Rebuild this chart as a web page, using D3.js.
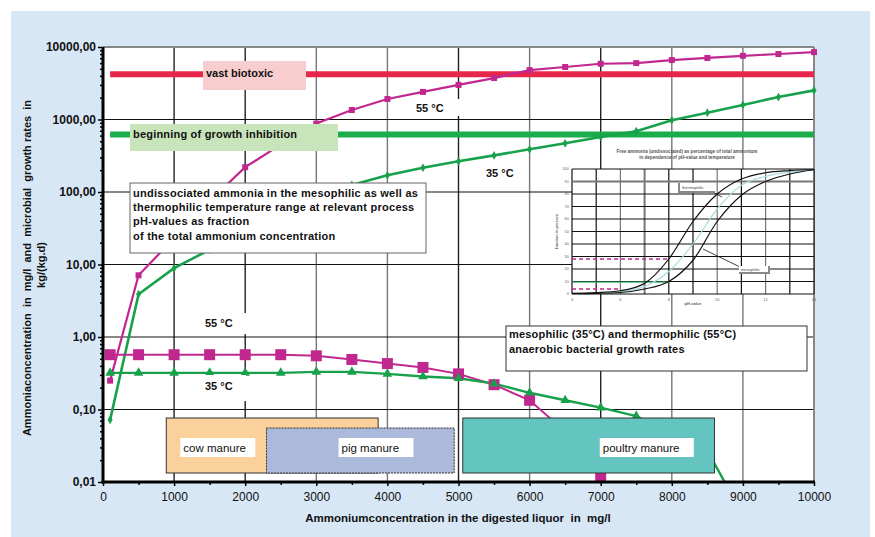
<!DOCTYPE html>
<html>
<head>
<meta charset="utf-8">
<script src="https://cdn.jsdelivr.net/npm/d3@7"></script>
<style>
  body { margin: 0; background: #fff; }
  text { font-family: "Liberation Sans", Arial, sans-serif; }
</style>
</head>
<body>
<svg id="chart" width="875" height="537"></svg>
<script>
// ---- data ----
// ammonia (NH3) concentration vs. ammonium concentration
var concX = [100, 500, 1000, 1500, 2000, 2500, 3000, 3500, 4000, 4500, 5000,
             5500, 6000, 6500, 7000, 7500, 8000, 8500, 9000, 9500, 10000];
var nh3At55 = [0.25, 7.1, 23, 75, 220, 450, 880, 1350, 1920, 2400, 3000,
               3730, 4800, 5300, 5870, 6000, 6600, 7060, 7560, 8000, 8500];
var nh3At35 = [0.072, 3.9, 8.9, 16, 30, 55, 85, 125, 170, 216, 265,
               320, 388, 470, 575, 690, 980, 1240, 1590, 2040, 2520];

// bacterial growth rates
var rateX55 = [100, 500, 1000, 1500, 2000, 2500, 3000, 3500, 4000, 4500, 5000, 5500, 6000, 6500, 7000];
var rate55 = [0.57, 0.57, 0.57, 0.57, 0.57, 0.57, 0.55, 0.49, 0.43, 0.38, 0.31, 0.22, 0.134, 0.05, 0.012];
var rateX35 = [100, 500, 1000, 1500, 2000, 2500, 3000, 3500, 4000, 4500, 5000,
               5500, 6000, 6500, 7000, 7500, 8000, 8500, 9000];
var rate35 = [0.32, 0.32, 0.32, 0.32, 0.32, 0.32, 0.33, 0.33, 0.31, 0.285, 0.27,
              0.227, 0.17, 0.134, 0.106, 0.081, 0.047, 0.027, 0.0035];

// threshold levels
var biotoxic = 4200;
var inhibition = 620;

// manure ranges (mg/l)
var manureNames = ["cow manure", "pig manure", "poultry manure"];
var manureFrom = [890, 2300, 5060];
var manureTo = [3870, 4940, 8600];

var yTicks = [0.01, 0.1, 1, 10, 100, 1000, 10000];
var xTicks = [0, 1000, 2000, 3000, 4000, 5000, 6000, 7000, 8000, 9000, 10000];

// inset: free ammonia in % vs pH
var insetPH = [4, 5, 6, 7, 8, 9, 10, 11, 12, 13, 14];
var thermo = [0.5, 1.1, 2.6, 8.5, 28, 58, 80, 92, 97, 98.7, 99.6];
var middle = [0.3, 0.7, 1.8, 6, 18, 40, 68, 87, 94, 97.5, 99.5];
var meso = [0.2, 0.5, 1.2, 4, 10, 27, 58, 79, 90, 96, 99.4];
var insetPHLabels = [4, 6, 8, 10, 12, 14];

// ---- layout ----
var margin = { top: 47, right: 61, bottom: 55, left: 103 },
    width = 875 - margin.left - margin.right,
    height = 537 - margin.top - margin.bottom;

var magenta = "#c0288f", green = "#17a14b";

var svg = d3.select("#chart");

svg.append("rect").attr("x", 11).attr("y", 11).attr("width", 859).attr("height", 530)
    .attr("fill", "#d8e7f5");

var g = svg.append("g")
    .attr("transform", "translate(" + margin.left + "," + margin.top + ")");

var x = d3.scaleLinear().domain([0, 10000]).range([0, width]);
var y = d3.scaleLog().domain([0.01, 10000]).range([height, 0]);

g.append("rect").attr("width", width).attr("height", height).attr("fill", "#fff");

// grid
g.selectAll(".vgrid").data(xTicks.slice(1, -1)).enter().append("line")
    .attr("x1", d => x(d)).attr("x2", d => x(d))
    .attr("y1", 0).attr("y2", height)
    .attr("stroke", d => (d === 5000 || d === 7000 || d === 1000 || d === 2000) ? "#222" : "#777")
    .attr("stroke-width", 1.4);

g.selectAll(".hgrid").data(yTicks.slice(1, -1)).enter().append("line")
    .attr("x1", 0).attr("x2", width)
    .attr("y1", d => y(d)).attr("y2", d => y(d))
    .attr("stroke", "#111").attr("stroke-width", 1.2);

// top / right frame
g.append("line").attr("x1", 0).attr("x2", width).attr("y1", 0).attr("y2", 0)
    .attr("stroke", "#888").attr("stroke-width", 2);
g.append("line").attr("x1", width).attr("x2", width).attr("y1", 0).attr("y2", height)
    .attr("stroke", "#888").attr("stroke-width", 2);

// ---- inset chart ----
var ix = d3.scaleLinear().domain([4, 14]).range([469, 711]);
var iy = d3.scaleLinear().domain([0, 100]).range([247, 122]);
var inset = g.append("g");

inset.append("text").attr("x", 584).attr("y", 106).attr("text-anchor", "middle")
    .style("font-size", "4.6px").style("font-weight", "bold").attr("fill", "#555")
    .text("Free ammonia (undissociated) as percentage of total ammonium");
inset.append("text").attr("x", 584).attr("y", 111.5).attr("text-anchor", "middle")
    .style("font-size", "4.6px").style("font-weight", "bold").attr("fill", "#555")
    .text("in dependence of pH-value and temperature");

inset.append("rect").attr("x", ix(4)).attr("y", iy(100))
    .attr("width", ix(14) - ix(4)).attr("height", iy(0) - iy(100)).attr("fill", "#fff");

inset.selectAll(".ivg").data(insetPH).enter().append("line")
    .attr("x1", d => ix(d)).attr("x2", d => ix(d))
    .attr("y1", iy(0)).attr("y2", iy(100))
    .attr("stroke", d => (d === 6 || d === 7 || d === 10 || d === 12) ? "#777" : "#111")
    .attr("stroke-width", d => d === 7 ? 2 : 1.2);
inset.selectAll(".ihg").data(d3.range(0, 101, 10)).enter().append("line")
    .attr("x1", ix(4)).attr("x2", ix(14))
    .attr("y1", d => iy(d)).attr("y2", d => iy(d))
    .attr("stroke", d => d === 90 ? "#777" : "#111")
    .attr("stroke-width", d => d === 90 ? 2 : 1.2);

inset.selectAll(".iyl").data(d3.range(0, 101, 10)).enter().append("text")
    .attr("x", ix(4) - 3).attr("y", d => iy(d) + 1.3).attr("text-anchor", "end")
    .style("font-size", "4px").attr("fill", "#666").text(d => d);
inset.selectAll(".ixl").data(insetPHLabels).enter().append("text")
    .attr("x", d => ix(d)).attr("y", iy(0) + 7).attr("text-anchor", "middle")
    .style("font-size", "4px").attr("fill", "#666").text(d => d);
inset.append("text").attr("x", 590).attr("y", 258).attr("text-anchor", "middle")
    .style("font-size", "4px").style("font-weight", "bold").attr("fill", "#666").text("pH-value");
inset.append("text").attr("transform", "translate(" + (ix(4) - 14) + "," + iy(50) + ") rotate(-90)")
    .attr("text-anchor", "middle")
    .style("font-size", "4px").style("font-weight", "bold").attr("fill", "#666").text("fraction in percent");

// reading lines
inset.append("line").attr("x1", ix(4)).attr("x2", ix(8)).attr("y1", iy(28)).attr("y2", iy(28))
    .attr("stroke", magenta).attr("stroke-width", 1.3).attr("stroke-dasharray", "4,3");
inset.append("line").attr("x1", ix(4)).attr("x2", ix(6)).attr("y1", iy(4)).attr("y2", iy(4))
    .attr("stroke", magenta).attr("stroke-width", 1.3).attr("stroke-dasharray", "4,3");
inset.append("line").attr("x1", ix(4)).attr("x2", ix(8)).attr("y1", iy(9.5)).attr("y2", iy(9.5))
    .attr("stroke", "#3cb56a").attr("stroke-width", 1.3);

var iline = d3.line().x((d, i) => ix(insetPH[i])).y(d => iy(d)).curve(d3.curveMonotoneX);
inset.append("path").attr("d", iline(middle)).attr("fill", "none").attr("stroke", "#a9dcdc").attr("stroke-width", 1.2);
inset.append("path").attr("d", iline(thermo)).attr("fill", "none").attr("stroke", "#111").attr("stroke-width", 1.2);
inset.append("path").attr("d", iline(meso)).attr("fill", "none").attr("stroke", "#111").attr("stroke-width", 1.2);

// inset labels
inset.append("line").attr("x1", 600).attr("y1", 140).attr("x2", 619).attr("y2", 150).attr("stroke", "#111").attr("stroke-width", 0.8);
inset.append("rect").attr("x", 576).attr("y", 136).attr("width", 36).attr("height", 8).attr("fill", "#fff");
inset.append("path").attr("d", "M576,136 V145 H612").attr("fill", "none").attr("stroke", "#888").attr("stroke-width", 2);
inset.append("text").attr("x", 579).attr("y", 141.5).style("font-size", "4px").attr("fill", "#444").text("thermophilic");
inset.append("line").attr("x1", 600).attr("y1", 202).attr("x2", 637).attr("y2", 220).attr("stroke", "#111").attr("stroke-width", 0.8);
inset.append("rect").attr("x", 636).attr("y", 219).attr("width", 30).attr("height", 7).attr("fill", "#fff");
inset.append("path").attr("d", "M636,226 H666 V219").attr("fill", "none").attr("stroke", "#888").attr("stroke-width", 2);
inset.append("text").attr("x", 638).attr("y", 224).style("font-size", "4px").attr("fill", "#444").text("mesophilic");

// ---- threshold lines ----
g.append("line").attr("x1", x(100)).attr("x2", x(10000))
    .attr("y1", y(biotoxic)).attr("y2", y(biotoxic))
    .attr("stroke", "#e8264b").attr("stroke-width", 6);
g.append("line").attr("x1", x(100)).attr("x2", x(10000))
    .attr("y1", y(inhibition)).attr("y2", y(inhibition))
    .attr("stroke", "#1bac4b").attr("stroke-width", 6);

// ---- series ----
svg.append("clipPath").attr("id", "plotclip").append("rect")
    .attr("x", -6).attr("y", -6).attr("width", width + 12).attr("height", height + 6);
var series = g.append("g").attr("clip-path", "url(#plotclip)");

function drawLine(xs, ys, color, w) {
    var line = d3.line().x((d, i) => x(xs[i])).y(d => y(d));
    series.append("path").attr("d", line(ys))
        .attr("fill", "none").attr("stroke", color).attr("stroke-width", w);
}

drawLine(concX, nh3At55, magenta, 2.2);
drawLine(concX, nh3At35, green, 2.6);
drawLine(rateX55, rate55, magenta, 2);
drawLine(rateX35, rate35, green, 2.4);

series.selectAll(".m55").data(nh3At55).enter().append("rect")
    .attr("x", (d, i) => x(concX[i]) - 3).attr("y", d => y(d) - 3)
    .attr("width", 6).attr("height", 6).attr("fill", magenta);
series.selectAll(".m35").data(nh3At35).enter().append("path")
    .attr("transform", (d, i) => "translate(" + x(concX[i]) + "," + y(d) + ")")
    .attr("d", d3.symbol().type(d3.symbolDiamond).size(22)).attr("fill", green);
series.selectAll(".r55").data(rate55).enter().append("rect")
    .attr("x", (d, i) => x(rateX55[i]) - 5.5).attr("y", d => y(d) - 5.5)
    .attr("width", 11).attr("height", 11).attr("fill", magenta);
series.selectAll(".r35").data(rate35).enter().append("path")
    .attr("transform", (d, i) => "translate(" + x(rateX35[i]) + "," + y(d) + ")")
    .attr("d", d3.symbol().type(d3.symbolTriangle).size(40)).attr("fill", green);

// ---- annotation boxes ----
function labelText(px, py, str, opts) {
    opts = opts || {};
    return g.append("text").attr("x", px).attr("y", py)
        .style("font-size", (opts.size || 11) + "px")
        .style("font-weight", opts.normal ? "normal" : "bold")
        .style("letter-spacing", opts.ls || "0px")
        .attr("fill", "#111").text(str);
}

g.append("rect").attr("x", 100).attr("y", 14).attr("width", 103).attr("height", 29).attr("fill", "#f8cdcd");
labelText(103, 30, "vast biotoxic");

g.append("rect").attr("x", 27).attr("y", 77).attr("width", 208).attr("height", 27).attr("fill", "#c8e4ba");
labelText(30, 91, "beginning of growth inhibition", { ls: "0.2px" });

// white patches behind temperature labels
g.append("rect").attr("x", 302).attr("y", 52).attr("width", 55).attr("height", 17).attr("fill", "#fff");
labelText(313, 65, "55 °C");
labelText(383, 130, "35 °C");
g.append("rect").attr("x", 90).attr("y", 266).attr("width", 53).attr("height", 21).attr("fill", "#fff");
labelText(102, 280, "55 °C");
g.append("rect").attr("x", 90).attr("y", 328).attr("width", 53).attr("height", 26).attr("fill", "#fff");
labelText(102, 343, "35 °C");

g.append("rect").attr("x", 27).attr("y", 136).attr("width", 296).attr("height", 70)
    .attr("fill", "#fff").attr("stroke", "#666").attr("stroke-width", 1);
var boxLines = ["undissociated ammonia in the mesophilic as well as",
                "thermophilic temperature range at relevant process",
                "pH-values as fraction",
                "of the total ammonium concentration"];
boxLines.forEach(function(t, i) {
    labelText(30, 150 + i * 14.2, t, { ls: "0.25px" });
});

g.append("rect").attr("x", 403).attr("y", 279).attr("width", 301).attr("height", 45)
    .attr("fill", "#fff").attr("stroke", "#333").attr("stroke-width", 1);
labelText(406, 291, "mesophilic (35°C) and thermophilic (55°C)", { ls: "0.2px" });
labelText(406, 306, "anaerobic bacterial growth rates", { ls: "0.2px" });

// manure boxes
var manureTop = [371, 381, 371];
var manureFill = ["#fad09b", "#abb9da", "#63c4c0"];
var labelW = [75, 75, 94];
manureNames.forEach(function(name, i) {
    var x0 = x(manureFrom[i]), x1 = x(manureTo[i]);
    g.append("rect").attr("x", x0).attr("y", manureTop[i])
        .attr("width", x1 - x0).attr("height", 426 - manureTop[i])
        .attr("fill", manureFill[i]).attr("stroke", "#333").attr("stroke-width", 1)
        .attr("stroke-dasharray", i === 1 ? "2,1" : null);
    var lx = [x0 + 14, x0 + 72, x0 + 137][i];
    g.append("rect").attr("x", lx).attr("y", 391).attr("width", labelW[i]).attr("height", 19).attr("fill", "#fff");
    labelText(lx + 3, 405, name, { normal: true, size: 11.5 });
});

// ---- axes ----
var comma = d3.formatLocale({ decimal: ",", thousands: "", grouping: [3], currency: ["", ""] }).format(".2f");

var yAxis = g.append("g")
    .call(d3.axisLeft(y).tickValues(yTicks).tickFormat(comma).tickSize(5).tickPadding(2));
yAxis.selectAll("text").style("font-size", "12px").style("font-weight", "bold").attr("fill", "#111");
yAxis.selectAll("line").attr("stroke", "#000").attr("stroke-width", 1.5);
yAxis.select(".domain").remove();

var minor = [];
yTicks.slice(0, -1).forEach(function(t) { for (var k = 2; k < 10; k++) minor.push(t * k); });
var yMinor = g.append("g")
    .call(d3.axisLeft(y).tickValues(minor).tickFormat("").tickSize(3));
yMinor.selectAll("line").attr("stroke", "#000").attr("stroke-width", 1.5);
yMinor.select(".domain").remove();

g.append("line").attr("x1", 0).attr("x2", 0).attr("y1", 0).attr("y2", height + 1.5)
    .attr("stroke", "#000").attr("stroke-width", 3);

var xAxis = g.append("g").attr("transform", "translate(0," + height + ")")
    .call(d3.axisBottom(x).tickValues(xTicks).tickFormat(d3.format("d")).tickSize(4).tickPadding(6));
xAxis.selectAll("text").style("font-size", "12px").attr("fill", "#111");
xAxis.selectAll("line").attr("stroke", "#000").attr("stroke-width", 1.5);
xAxis.select(".domain").remove();
var xMinor = g.append("g").attr("transform", "translate(0," + height + ")")
    .call(d3.axisBottom(x).tickValues(d3.range(500, 10000, 1000)).tickFormat("").tickSize(3));
xMinor.selectAll("line").attr("stroke", "#000").attr("stroke-width", 1.5);
xMinor.select(".domain").remove();
g.append("line").attr("x1", -1.5).attr("x2", width + 1).attr("y1", height).attr("y2", height)
    .attr("stroke", "#000").attr("stroke-width", 3);

// axis titles
svg.append("text")
    .attr("x", 458).attr("y", 522).attr("text-anchor", "middle")
    .style("font-size", "11.5px").style("font-weight", "bold").attr("fill", "#111")
    .style("white-space", "pre")
    .text("Ammoniumconcentration in the digested liquor  in  mg/l");

svg.append("text")
    .attr("transform", "translate(31,268) rotate(-90)").attr("text-anchor", "middle")
    .style("font-size", "11px").style("font-weight", "bold").attr("fill", "#111")
    .style("white-space", "pre")
    .text("Ammoniaconcentration  in  mg/l  and  microbial  growth rates  in");
svg.append("text")
    .attr("transform", "translate(45,265) rotate(-90)").attr("text-anchor", "middle")
    .style("font-size", "11px").style("font-weight", "bold").attr("fill", "#111")
    .text("kg/(kg.d)");
</script>
</body>
</html>
